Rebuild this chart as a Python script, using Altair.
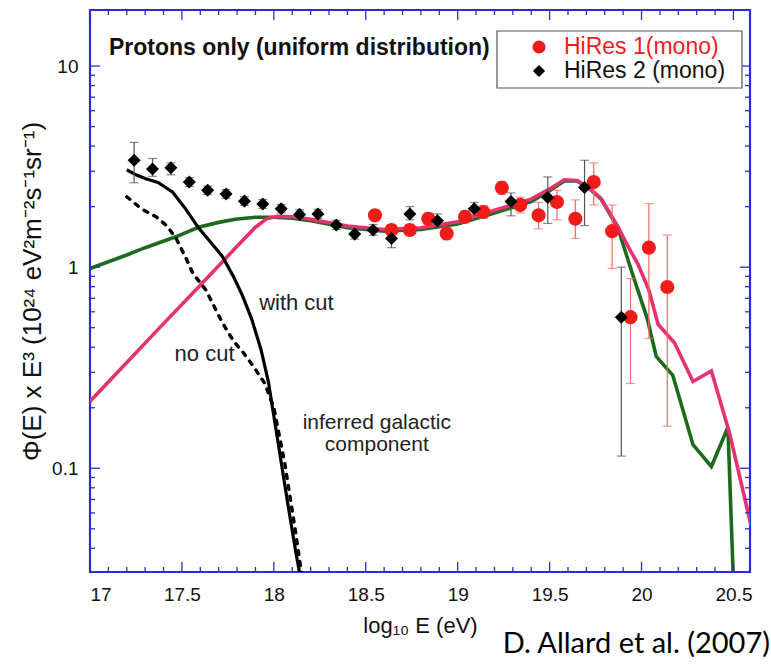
import altair as alt
import pandas as pd

# ---- measured spectra -------------------------------------------------------
# HiRes 2 (mono): log10 E, flux*E^3, lower / upper error
hires2_x = [17.24, 17.34, 17.44, 17.54, 17.64, 17.74, 17.84, 17.94, 18.04, 18.14,
            18.24, 18.34, 18.44, 18.54, 18.64, 18.74, 18.89, 19.09, 19.29, 19.49,
            19.69, 19.89]
hires2_y = [3.40, 3.08, 3.12, 2.65, 2.41, 2.31, 2.13, 2.06, 1.95, 1.83,
            1.84, 1.62, 1.46, 1.53, 1.39, 1.84, 1.70, 1.95, 2.12, 2.22,
            2.49, 0.564]
hires2_lo = [2.63, 2.83, 2.88, 2.52, 2.30, 2.20, 2.03, 1.96, 1.86, 1.74,
             1.75, 1.54, 1.38, 1.44, 1.25, 1.72, 1.58, 1.82, 1.80, 1.65,
             1.61, 0.115]
hires2_hi = [4.17, 3.47, 3.30, 2.79, 2.53, 2.43, 2.24, 2.17, 2.05, 1.93,
             1.94, 1.71, 1.55, 1.63, 1.53, 2.00, 1.84, 2.10, 2.34, 2.81,
             3.40, 1.00]

# HiRes 1 (mono)
hires1_x = [18.55, 18.64, 18.74, 18.84, 18.94, 19.04, 19.14, 19.24, 19.34, 19.44,
            19.54, 19.64, 19.74, 19.84, 19.94, 20.04, 20.14]
hires1_y = [1.81, 1.53, 1.53, 1.74, 1.47, 1.78, 1.88, 2.48, 2.04, 1.81,
            2.11, 1.74, 2.65, 1.51, 0.564, 1.25, 0.797]
hires1_lo = [1.70, 1.44, 1.44, 1.63, 1.37, 1.66, 1.75, 2.30, 1.86, 1.55,
             1.72, 1.39, 2.04, 0.985, 0.264, 0.443, 0.162]
hires1_hi = [1.93, 1.63, 1.63, 1.86, 1.58, 1.91, 2.02, 2.67, 2.23, 2.10,
             2.41, 2.16, 3.30, 2.04, 0.878, 2.07, 1.445]

# ---- model curves -----------------------------------------------------------
green_x = [17.0, 17.1, 17.2, 17.3, 17.47, 17.59, 17.7, 17.79, 17.9, 18.0, 18.1,
           18.2, 18.4, 18.6, 18.8, 19.0, 19.2, 19.4, 19.5, 19.58, 19.65, 19.72,
           19.78, 19.87, 19.95, 20.03, 20.08, 20.17, 20.28, 20.38, 20.47, 20.505]
green_y = [0.985, 1.064, 1.15, 1.25, 1.42, 1.58, 1.67, 1.73, 1.77, 1.77, 1.75,
           1.70, 1.57, 1.51, 1.54, 1.64, 1.86, 2.12, 2.40, 2.68, 2.68, 2.44,
           2.18, 1.58, 0.93, 0.56, 0.36, 0.29, 0.131, 0.102, 0.16, 0.02]

pink_x = [17.0, 17.2, 17.4, 17.6, 17.8, 17.9, 17.96, 18.02, 18.1, 18.2, 18.4,
          18.6, 18.8, 19.0, 19.2, 19.4, 19.5, 19.58, 19.65, 19.72, 19.78, 19.87,
          19.93, 19.98, 20.04, 20.09, 20.18, 20.28, 20.38, 20.48, 20.6]
pink_y = [0.215, 0.336, 0.524, 0.814, 1.27, 1.58, 1.74, 1.79, 1.78, 1.73, 1.60,
          1.54, 1.57, 1.68, 1.92, 2.18, 2.45, 2.72, 2.70, 2.45, 2.20, 1.60,
          1.25, 1.04, 0.77, 0.52, 0.42, 0.27, 0.305, 0.148, 0.050]

cut_x = [17.2, 17.25, 17.3, 17.37, 17.45, 17.52, 17.59, 17.66, 17.72, 17.78,
         17.83, 17.88, 17.93, 17.97, 18.02, 18.07, 18.12, 18.16]
cut_y = [3.05, 2.88, 2.76, 2.64, 2.36, 1.95, 1.57, 1.32, 1.13, 0.90,
         0.72, 0.55, 0.39, 0.27, 0.14, 0.072, 0.038, 0.024]

nocut_x = [17.2, 17.28, 17.36, 17.42, 17.47, 17.52, 17.56, 17.63, 17.72, 17.78,
           17.84, 17.9, 17.95, 18.0, 18.06, 18.12, 18.16]
nocut_y = [2.24, 1.95, 1.78, 1.60, 1.38, 1.12, 0.93, 0.77, 0.53, 0.43,
           0.37, 0.31, 0.265, 0.20, 0.105, 0.047, 0.026]

# ---- annotations ------------------------------------------------------------
label_text = ["with cut", "no cut"]
label_x = [17.92, 17.46]
label_y = [0.66, 0.372]
galactic_text = ["inferred galactic\ncomponent"]
galactic_x = [18.56]
galactic_y = [0.168]

x_major = [17, 17.5, 18, 18.5, 19, 19.5, 20, 20.5]
x_minor = [round(17 + 0.1 * i, 1) for i in range(36) if (i % 5) != 0]
y_major = [0.1, 1, 10]
y_minor = [m * 10.0 ** e for e in (-2, -1, 0) for m in range(2, 10)
           if 0.0305 <= m * 10.0 ** e <= 19]

W, H = 660, 562
X_DOM = [17, 20.59]
Y_DOM = [0.0305, 19]
FONT = "Liberation Sans"
BLUE = "#2c2cd6"
PINK = "#e8326f"
GREEN = "#1d6a1d"
RED = "#f01c1c"

xs = alt.Scale(domain=X_DOM, nice=False, zero=False)
ys = alt.Scale(type="log", domain=Y_DOM, nice=False)

X_TITLE = "log\u2081\u2080 E (eV)"
Y_TITLE = ("\u03a6(E) x E\u00b3 (10\u00b2\u2074 "
           "eV\u00b2m\u207b\u00b2s\u207b\u00b9sr\u207b\u00b9)")

x_axis = alt.Axis(values=x_major, format=".1~f", tickSize=0, domain=False,
                  grid=False, labelFont=FONT, labelFontSize=19,
                  labelPadding=13, labelColor="#111", titleFont=FONT,
                  titleFontSize=22, titleFontWeight="normal",
                  titleColor="#111", titlePadding=11)
y_axis = alt.Axis(values=y_major, format=".1~f", tickSize=0, domain=False,
                  grid=False, labelFont=FONT, labelFontSize=19,
                  labelPadding=12, labelColor="#111", titleFont=FONT,
                  titleFontSize=26, titleFontWeight="normal",
                  titleColor="#111", titlePadding=6)


def X(f):
    return alt.X(f, type="quantitative", scale=xs, axis=x_axis, title=X_TITLE)


def Y(f):
    return alt.Y(f, type="quantitative", scale=ys, axis=y_axis, title=Y_TITLE)


def curve(xv, yv, color, width=3.6, **kw):
    df = pd.DataFrame({"e": xv, "f": yv, "i": range(len(xv))})
    return alt.Chart(df).mark_line(color=color, clip=True, strokeWidth=width,
                                   **kw).encode(x=X("e"), y=Y("f"),
                                                order="i:Q")


green = curve(green_x, green_y, GREEN)
pink = curve(pink_x, pink_y, PINK)
cut = curve(cut_x, cut_y, "black", width=3.2)
nocut = curve(nocut_x, nocut_y, "black", width=3.4,
              strokeDash=[4, 7], strokeCap="round")

h1 = pd.DataFrame({"e": hires1_x, "f": hires1_y, "lo": hires1_lo, "hi": hires1_hi})
h2 = pd.DataFrame({"e": hires2_x, "f": hires2_y, "lo": hires2_lo, "hi": hires2_hi})


def errbars(df, color):
    base = alt.Chart(df)
    bar = base.mark_rule(color=color, strokeWidth=1.2, clip=True).encode(
        x=X("e"), y=Y("lo"), y2="hi")
    cap_lo = base.mark_tick(color=color, orient="horizontal", size=9,
                            thickness=1.2, clip=True).encode(x=X("e"), y=Y("lo"))
    cap_hi = base.mark_tick(color=color, orient="horizontal", size=9,
                            thickness=1.2, clip=True).encode(x=X("e"), y=Y("hi"))
    return bar + cap_lo + cap_hi


err1 = errbars(h1, "#ef6a6a")
err2 = errbars(h2, "#555555")

pts1 = alt.Chart(h1).mark_point(shape="circle", filled=True, opacity=1,
                                color=RED, size=200).encode(x=X("e"), y=Y("f"))
pts2 = alt.Chart(h2).mark_point(shape="diamond", filled=True, opacity=1,
                                color="black", size=170).encode(x=X("e"), y=Y("f"))

labels = alt.Chart(pd.DataFrame({"t": label_text, "e": label_x, "f": label_y})).mark_text(
    align="left", baseline="middle", font=FONT, fontSize=22, color="#222"
).encode(x=X("e"), y=Y("f"), text="t:N")

galactic = alt.Chart(pd.DataFrame({"t": galactic_text, "e": galactic_x,
                                   "f": galactic_y})).mark_text(
    align="center", baseline="middle", font=FONT, fontSize=21, color="#222",
    lineBreak="\n", lineHeight=22
).encode(x=X("e"), y=Y("f"), text="t:N")

# ---- frame ticks (inward, on all four sides) ---------------------------------
def xticks(vals, length):
    df = pd.DataFrame({"e": vals})
    b = alt.Chart(df).mark_rule(color=BLUE, strokeWidth=1.3)
    return (b.encode(x=X("e"), y=alt.value(H), y2=alt.value(H - length)) +
            b.encode(x=X("e"), y=alt.value(0), y2=alt.value(length)))


def yticks(vals, length):
    df = pd.DataFrame({"f": vals})
    b = alt.Chart(df).mark_rule(color=BLUE, strokeWidth=1.3)
    return (b.encode(y=Y("f"), x=alt.value(0), x2=alt.value(length)) +
            b.encode(y=Y("f"), x=alt.value(W), x2=alt.value(W - length)))


ticks = xticks(x_major, 10) + xticks(x_minor, 5) + yticks(y_major, 10) + yticks(y_minor, 5)

# ---- caption inside the frame and the legend box ----------------------------
caption = alt.Chart(pd.DataFrame({"t": ["Protons only (uniform distribution)"]})).mark_text(
    align="left", baseline="middle", font=FONT, fontSize=23, fontWeight="bold",
    color="#111").encode(x=alt.value(19), y=alt.value(38), text="t:N")

legend_box = alt.Chart(pd.DataFrame({"a": [0]})).mark_rect(
    fill="white", stroke="#555", strokeWidth=1.2).encode(
    x=alt.value(407), x2=alt.value(652), y=alt.value(21), y2=alt.value(78))

leg1_sym = alt.Chart(pd.DataFrame({"a": [0]})).mark_point(
    shape="circle", filled=True, opacity=1, color=RED, size=170).encode(
    x=alt.value(449), y=alt.value(37))
leg2_sym = alt.Chart(pd.DataFrame({"a": [0]})).mark_point(
    shape="diamond", filled=True, opacity=1, color="black", size=150).encode(
    x=alt.value(449), y=alt.value(61))
leg1_txt = alt.Chart(pd.DataFrame({"t": ["HiRes 1(mono)"]})).mark_text(
    align="left", baseline="middle", font=FONT, fontSize=23, color=RED).encode(
    x=alt.value(474), y=alt.value(37), text="t:N")
leg2_txt = alt.Chart(pd.DataFrame({"t": ["HiRes 2 (mono)"]})).mark_text(
    align="left", baseline="middle", font=FONT, fontSize=23, color="#111").encode(
    x=alt.value(474), y=alt.value(61), text="t:N")

credit = alt.Chart(pd.DataFrame({"t": ["D. Allard et al. (2007)"]})).mark_text(
    align="right", baseline="middle", font="Lato", fontSize=29, color="black").encode(
    x=alt.value(680), y=alt.value(634), text="t:N")

chart = alt.layer(
    green, pink, nocut, cut, err1, err2, pts1, pts2, labels, galactic, ticks,
    caption, legend_box, leg1_sym, leg2_sym, leg1_txt, leg2_txt, credit
).properties(
    width=W, height=H,
    autosize=alt.AutoSizeParams(type="none"),
    padding={"left": 90, "top": 10, "right": 21, "bottom": 92},
    background="white",
).configure_view(
    stroke=BLUE, strokeWidth=2.2
)

chart.save("out.html", embed_options={"renderer": "svg", "actions": False})
